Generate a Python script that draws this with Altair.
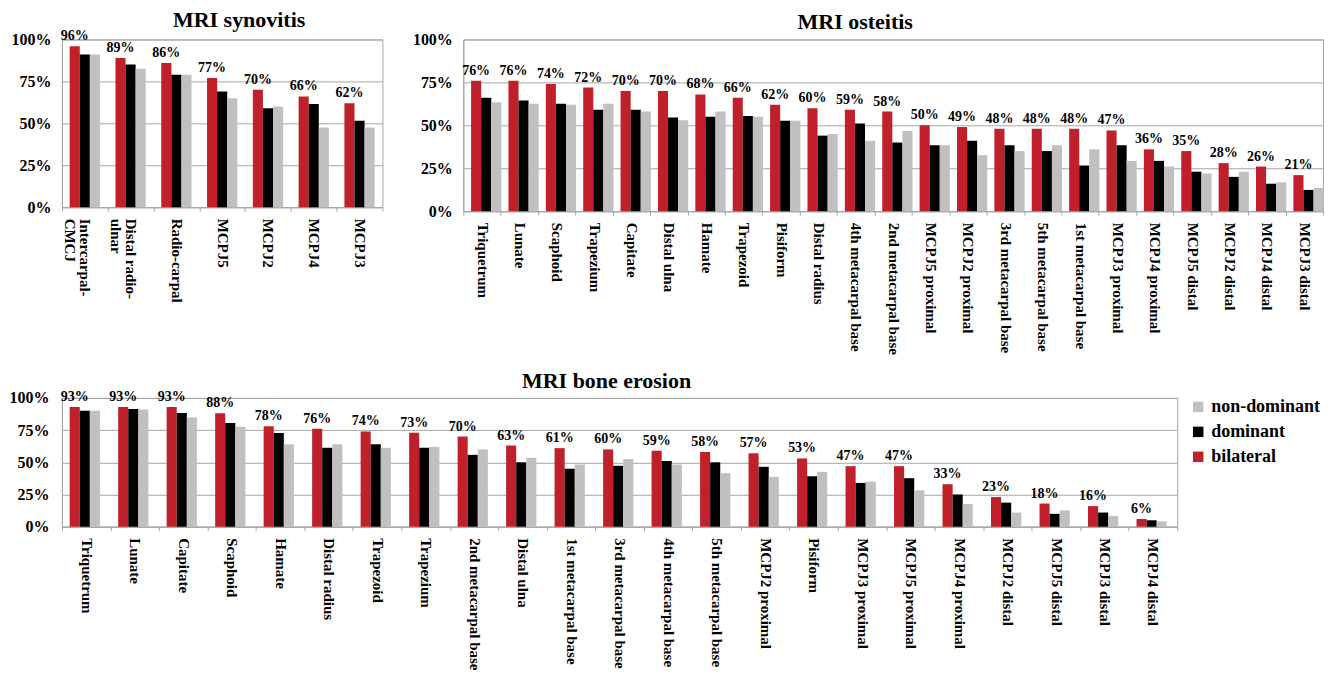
import altair as alt
import pandas as pd

groups = ["bilateral", "dominant", "non-dominant"]
colors = ["#C0202A", "#000000", "#C0C0C0"]

syn_cats = ["Intercarpal-|CMCJ", "Distal radio-|ulnar", "Radio-carpal", "MCPJ5", "MCPJ2", "MCPJ4", "MCPJ3"]
syn_bil = [96, 89, 86, 77, 70, 66, 62]
syn_dom = [91, 85, 79, 69, 59, 61.5, 51.5]
syn_non = [91, 82.5, 79, 65, 60, 47.5, 47.5]

ost_cats = ["Triquetrum", "Lunate", "Scaphoid", "Trapezium", "Capitate", "Distal ulna", "Hamate",
            "Trapezoid", "Pisiform", "Distal radius", "4th metacarpal base", "2nd metacarpal base",
            "MCPJ5 proximal", "MCPJ2 proximal", "3rd metacarpal base", "5th metacarpal base",
            "1st metacarpal base", "MCPJ3 proximal", "MCPJ4 proximal", "MCPJ5 distal",
            "MCPJ2 distal", "MCPJ4 distal", "MCPJ3 distal"]
ost_bil = [76, 76, 74, 72, 70, 70, 68, 66, 62, 60, 59, 58, 50, 49, 48, 48, 48, 47, 36, 35, 28, 26, 21]
ost_dom = [66, 64.5, 62.5, 59, 59, 54.5, 55, 55.5, 52.7, 44, 51, 40, 38.4, 41, 38.4, 35, 26.6, 38.4,
           29.3, 23, 20, 16, 12.4]
ost_non = [63.5, 62.5, 62, 62.5, 58, 53, 58, 55, 52.7, 45, 41, 46.7, 38.4, 32.6, 35, 38.4, 36, 29.3,
           26, 22, 23, 16.8, 13.5]

ero_cats = ["Triquetrum", "Lunate", "Capitate", "Scaphoid", "Hamate", "Distal radius", "Trapezoid",
            "Trapezium", "2nd metacarpal base", "Distal ulna", "1st metacarpal base",
            "3rd metacarpal base", "4th metacarpal base", "5th metacarpal base", "MCPJ2 proximal",
            "Pisiform", "MCPJ3 proximal", "MCPJ5 proximal", "MCPJ4 proximal", "MCPJ2 distal",
            "MCPJ5 distal", "MCPJ3 distal", "MCPJ4 distal"]
ero_bil = [93, 93, 93, 88, 78, 76, 74, 73, 70, 63, 61, 60, 59, 58, 57, 53, 47, 47, 33, 23, 18, 16, 6]
ero_dom = [90, 91.4, 88.3, 80.5, 72.7, 61.3, 64, 61.3, 55.8, 50, 45, 47.3, 51, 50, 46.5, 39.2, 34,
           37.7, 25, 18.7, 10, 11, 5]
ero_non = [90, 91, 84.7, 77.7, 64, 64, 61.3, 62, 60, 53.5, 48.3, 52.5, 48.3, 41.6, 38.7, 42.6, 35,
           28.3, 17.7, 11, 12.7, 8.3, 4.2]

FONT = "Liberation Serif"
GRID = "#A6A6A6"


def panel(title, cats, bil, dom, non, width, height, legend, title_dx, title_offset, ylab_pad):
    rows = []
    for i, c in enumerate(cats):
        for g, v in zip(groups, (bil[i], dom[i], non[i])):
            rows.append({"cat": c, "group": g, "value": v})
    df = pd.DataFrame(rows)

    x = alt.X("cat:N", sort=cats, title=None,
              scale=alt.Scale(paddingInner=0, paddingOuter=0),
              axis=alt.Axis(labelAngle=90, tickBand="extent", labelExpr="split(datum.label, '|')",
                            labelFont=FONT, labelFontSize=15, labelFontWeight="bold",
                            labelColor="#000000", labelOverlap=False, labelLineHeight=15,
                            tickSize=4, tickColor=GRID, domainColor=GRID, labelPadding=7,
                            labelBaseline="middle", labelAlign="left"))
    xo = alt.XOffset("group:N", scale=alt.Scale(domain=groups, paddingOuter=0.77, paddingInner=0))
    y = alt.Y("value:Q", title=None,
              scale=alt.Scale(domain=[0, 100], nice=False),
              axis=alt.Axis(values=[0, 25, 50, 75, 100], labelExpr="datum.value + '%'",
                            labelFont=FONT, labelFontSize=16, labelFontWeight="bold",
                            labelColor="#000000", ticks=False, domainColor=GRID,
                            gridColor=GRID, labelPadding=ylab_pad))
    if legend:
        leg = alt.Legend(values=["non-dominant", "dominant", "bilateral"], title=None, orient="right",
                         symbolType="square", symbolSize=110, symbolStrokeWidth=0,
                         labelFont=FONT, labelFontSize=18, labelFontWeight="bold",
                         labelColor="#000000", rowPadding=7, offset=12, padding=0, labelOffset=4)
    else:
        leg = None
    color = alt.Color("group:N", scale=alt.Scale(domain=groups, range=colors), legend=leg)

    bars = alt.Chart(df).mark_bar().encode(x=x, xOffset=xo, y=y, color=color)
    text = alt.Chart(df).transform_filter("datum.group == 'bilateral'").transform_calculate(
        lab="datum.value + '%'"
    ).mark_text(baseline="alphabetic", dy=-6, font=FONT, fontSize=14, fontWeight="bold",
                color="#000000").encode(x=x, xOffset=xo, y=y, text="lab:N")
    return alt.layer(bars, text).properties(
        width=width, height=height,
        title=alt.Title(title, font=FONT, fontSize=22, fontWeight="bold", color="#000000",
                        anchor="middle", frame="group", dx=title_dx, offset=title_offset))


syn = panel("MRI synovitis", syn_cats, syn_bil, syn_dom, syn_non, 321, 168, False, 17, -3, 11)
ost = panel("MRI osteitis", ost_cats, ost_bil, ost_dom, ost_non, 861, 172, False, -38, -3, 11)
ero = panel("MRI bone erosion", ero_cats, ero_bil, ero_dom, ero_non, 1117, 129, True, -13, -3, 13)

top = alt.hconcat(syn, ost, spacing=81, bounds="flush").resolve_legend(color="independent")
chart = alt.vconcat(top, ero, spacing=359, bounds="flush").resolve_legend(
    color="independent"
).properties(padding=0).configure_view(stroke=GRID)

chart.save("out.html", embed_options={"renderer": "svg", "actions": False})
